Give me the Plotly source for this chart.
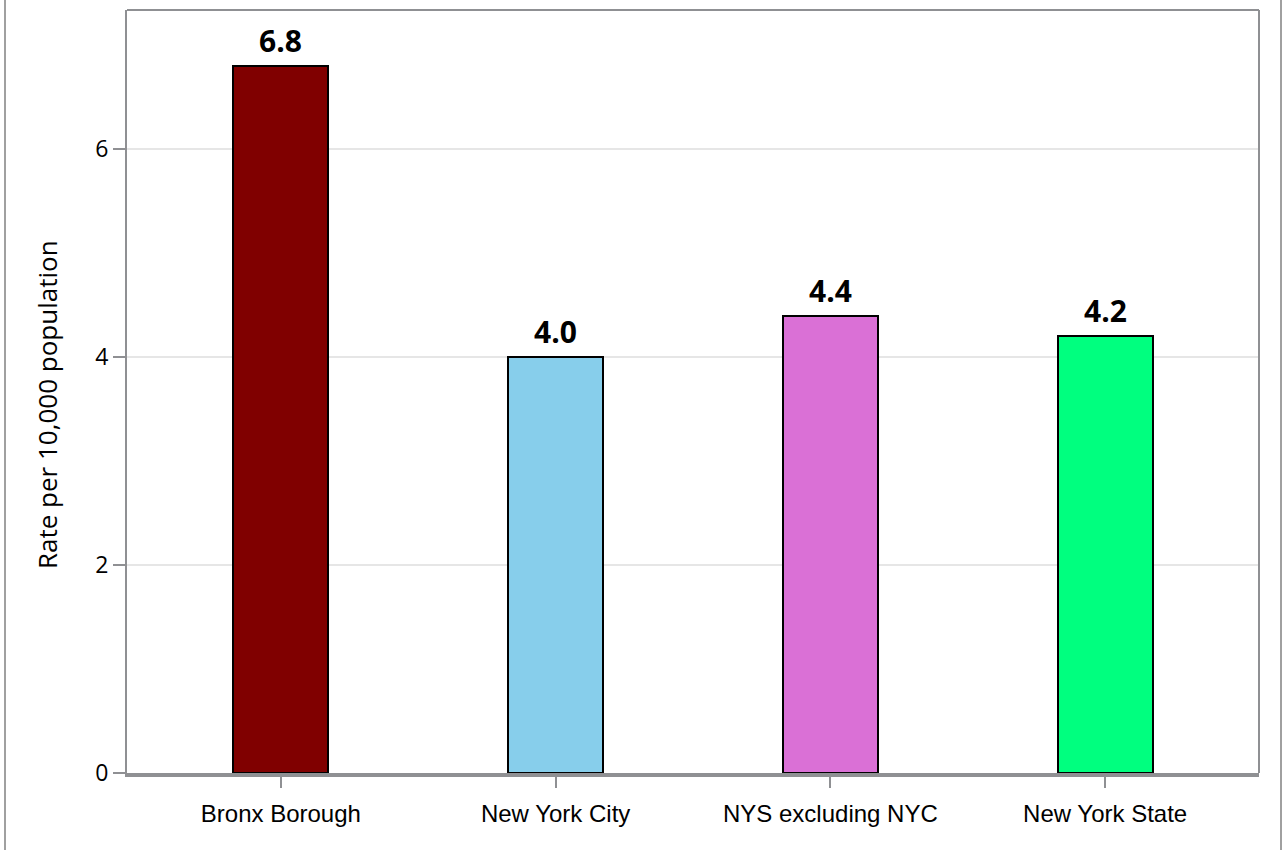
import plotly.graph_objects as go

categories = ["Bronx Borough", "New York City", "NYS excluding NYC", "New York State"]
values = [6.8, 4.0, 4.4, 4.2]
colors = ["#800000", "#87CEEB", "#DA70D6", "#00FF7F"]
labels = ["6.8", "4.0", "4.4", "4.2"]
y_ticks = [0, 2, 4, 6]
y_title = "Rate per 10,000 population"

W, H = 1283, 850
L, R, T, B = 127, 24, 10, 77
pw = W - L - R
ph = H - T - B
axis_gray = "#8f9093"

fig = go.Figure()
fig.add_trace(go.Bar(
    x=categories, y=values,
    marker=dict(color=colors, line=dict(color="black", width=2)),
    width=0.345,
    hoverinfo="skip",
))

for c, v, t in zip(categories, values, labels):
    fig.add_annotation(
        x=c, y=v, text=t, showarrow=False,
        yanchor="bottom", yshift=3,
        font=dict(family="Open Sans", size=30, color="black", weight="bold"),
    )

# y-axis title as a rotated annotation (positioned like the reference)
fig.add_annotation(
    xref="paper", yref="paper",
    x=(47 - L) / pw, y=(H - B - 405) / ph,
    text=y_title, textangle=-90, showarrow=False,
    xanchor="center", yanchor="middle",
    font=dict(family="Open Sans", size=26, color="black"),
)

fig.update_layout(
    width=W, height=H,
    margin=dict(l=L, r=R, t=T, b=B),
    plot_bgcolor="white", paper_bgcolor="white",
    showlegend=False,
    bargap=0,
    xaxis=dict(
        range=[-0.56, 3.56],
        showline=True, linewidth=4, linecolor=axis_gray,
        ticks="outside", ticklen=11, tickwidth=2, tickcolor=axis_gray,
        ticklabelstandoff=5,
        tickfont=dict(family="Liberation Sans, Arial", size=24, color="black"),
        showgrid=False, zeroline=False,
    ),
    yaxis=dict(
        range=[0, 7.34],
        tickvals=y_ticks,
        showline=True, linewidth=2, linecolor=axis_gray,
        ticks="outside", ticklen=12, tickwidth=2, tickcolor=axis_gray,
        tickfont=dict(family="Open Sans", size=23, color="black"),
        showgrid=True, gridcolor="#e6e6e6", gridwidth=2,
        zeroline=False,
    ),
)

# frame (top and right)
fig.add_shape(type="line", xref="paper", yref="paper", x0=0, x1=1, y0=1, y1=1,
              line=dict(color=axis_gray, width=2))
fig.add_shape(type="line", xref="paper", yref="paper", x0=1, x1=1, y0=0, y1=1,
              line=dict(color=axis_gray, width=2))
# outer container border lines
for px in (5, 1281):
    xp = (px - L) / pw
    fig.add_shape(type="line", xref="paper", yref="paper", x0=xp, x1=xp,
                  y0=-(B + 2) / ph, y1=1 + (T + 2) / ph,
                  line=dict(color="#a0a0a0", width=2))

fig.write_html("out.html", config={"displayModeBar": False},
               post_script="document.body.style.margin='0';")
